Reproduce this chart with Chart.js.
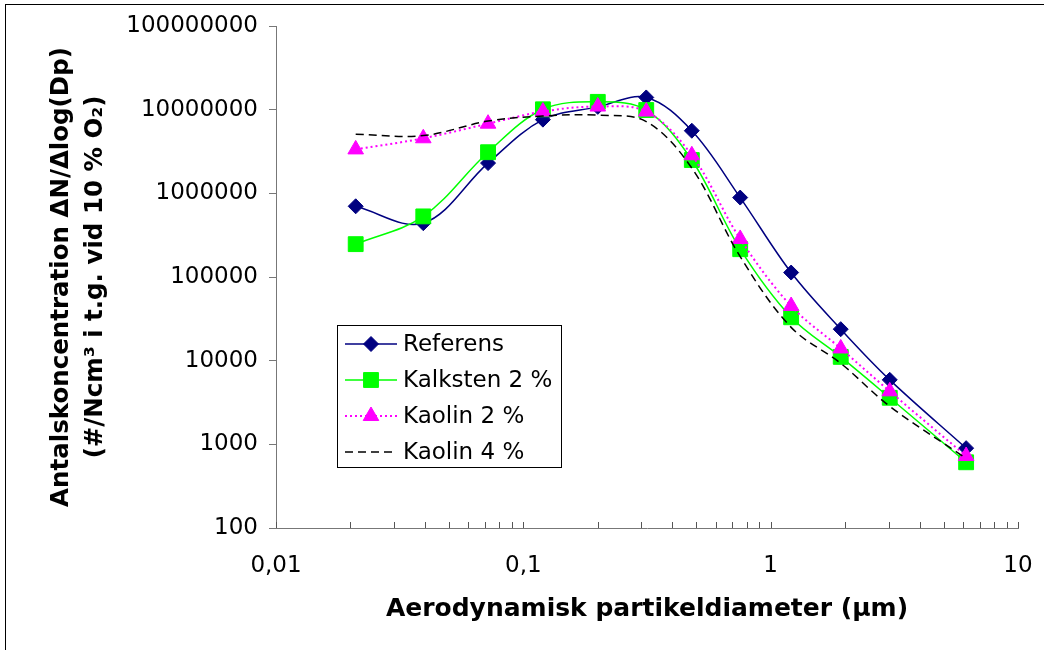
<!DOCTYPE html>
<html>
<head>
<meta charset="utf-8">
<script src="https://cdn.jsdelivr.net/npm/chart.js@4.4.0/dist/chart.umd.min.js"></script>
<style>
  html, body { margin: 0; padding: 0; background: #fff; }
  #wrap { position: relative; width: 1044px; height: 650px; }
  #frame { position: absolute; left: 5px; top: 4px; right: 0; bottom: 0;
           border-left: 1px solid #000; border-top: 1px solid #000; pointer-events: none; }
</style>
</head>
<body>
<div id="wrap">
  <canvas id="chart" width="1044" height="650"></canvas>
  <div id="frame"></div>
</div>
<script>
// partikeldiameter (µm)
const diameters = [0.021, 0.0394, 0.072, 0.12, 0.2, 0.314, 0.48, 0.753, 1.21, 1.92, 3.03, 6.17];

// ΔN/Δlog(Dp) per serie
const referens  = [700000, 440000, 2300000, 7600000, 10800000, 14000000, 5600000, 890000, 113000, 23800, 5900, 900];
const kalksten2 = [247000, 530000, 3100000, 10100000, 12400000, 9900000, 2500000, 215000, 33000, 11100, 3600, 610];
const kaolin2   = [3350000, 4550000, 6800000, 9500000, 10900000, 9500000, 2850000, 285000, 45000, 14000, 4300, 725];
const kaolin4   = [5100000, 4900000, 7300000, 8400000, 8600000, 7200000, 2000000, 175000, 25000, 9300, 2850, 680];

const seriesNames = ['Referens', 'Kalksten 2 %', 'Kaolin 2 %', 'Kaolin 4 %'];

// axlar
const yTicks = [100, 1000, 10000, 100000, 1000000, 10000000, 100000000];
const xMajorTicks = [0.01, 0.1, 1, 10];
const xTickLabels = ['0,01', '0,1', '1', '10'];
const xMinorFactors = [2, 3, 4, 5, 6, 7, 8, 9];

const xTitle = 'Aerodynamisk partikeldiameter (µm)';
const yTitle = ['Antalskoncentration ΔN/Δlog(Dp)', '(#/Ncm³ i t.g. vid 10 % O₂)'];

const FONT = '"DejaVu Sans", "Liberation Sans", Arial, sans-serif';
Chart.defaults.font.family = FONT;
Chart.defaults.color = '#000';

function toPoints(values) {
    return diameters.map((d, i) => ({ x: d, y: values[i] }));
}

// alla tickpositioner på x (stora + små)
const xTickPositions = [];
xMajorTicks.forEach((m, i) => {
    xTickPositions.push(m);
    if (i < xMajorTicks.length - 1) {
        xMinorFactors.forEach(f => xTickPositions.push(m * f));
    }
});

// små tickstreck inåt på x-axeln
const xTickMarks = {
    id: 'xTickMarks',
    afterDraw(chart) {
        const ctx = chart.ctx;
        const xs = chart.scales.x;
        const yBase = chart.chartArea.bottom;
        ctx.save();
        ctx.strokeStyle = '#555';
        ctx.lineWidth = 1;
        xs.ticks.forEach(t => {
            const px = Math.round(xs.getPixelForValue(t.value)) + 0.5;
            ctx.beginPath();
            ctx.moveTo(px, yBase);
            ctx.lineTo(px, yBase - 6);
            ctx.stroke();
        });
        ctx.restore();
    }
};

// förklaringsruta inne i diagrammet
const boxLegend = {
    id: 'boxLegend',
    afterDraw(chart) {
        const ctx = chart.ctx;
        const x0 = 337, y0 = 325, w = 224, h = 142;
        ctx.save();
        ctx.fillStyle = '#fff';
        ctx.fillRect(x0, y0, w, h);
        ctx.strokeStyle = '#000';
        ctx.lineWidth = 1;
        ctx.strokeRect(x0 + 0.5, y0 + 0.5, w, h);

        chart.data.datasets.forEach((ds, i) => {
            const cy = 344 + i * 36;
            ctx.strokeStyle = ds.borderColor;
            ctx.lineWidth = ds.borderWidth;
            ctx.setLineDash(ds.borderDash || []);
            ctx.beginPath();
            ctx.moveTo(345, cy);
            ctx.lineTo(397, cy);
            ctx.stroke();
            ctx.setLineDash([]);

            if (ds.pointRadius > 0) {
                ctx.fillStyle = ds.pointBackgroundColor;
                ctx.strokeStyle = ds.pointBorderColor;
                ctx.lineWidth = 1;
                Chart.helpers.drawPoint(ctx, {
                    pointStyle: ds.pointStyle,
                    radius: ds.pointRadius,
                    borderWidth: 1,
                    rotation: 0
                }, 371, cy);
            }

            ctx.fillStyle = '#000';
            ctx.font = '23px ' + FONT;
            ctx.textBaseline = 'middle';
            ctx.textAlign = 'left';
            ctx.fillText(ds.label, 403, cy + 1);
        });
        ctx.restore();
    }
};

new Chart(document.getElementById('chart'), {
    type: 'line',
    data: {
        datasets: [
            {
                label: seriesNames[0],
                data: toPoints(referens),
                borderColor: '#000080',
                borderWidth: 1.5,
                pointStyle: 'rectRot',
                pointRadius: 7.5,
                pointBackgroundColor: '#000080',
                pointBorderColor: '#000080',
                pointBorderWidth: 1,
                tension: 0.35,
                order: 4
            },
            {
                label: seriesNames[1],
                data: toPoints(kalksten2),
                borderColor: '#00ff00',
                borderWidth: 1.5,
                pointStyle: 'rect',
                pointRadius: 10.5,
                pointBackgroundColor: '#00ff00',
                pointBorderColor: '#00ff00',
                pointBorderWidth: 1,
                tension: 0.35,
                order: 3
            },
            {
                label: seriesNames[2],
                data: toPoints(kaolin2),
                borderColor: '#ff00ff',
                borderWidth: 2,
                borderDash: [2, 3],
                pointStyle: 'triangle',
                pointRadius: 9,
                pointBackgroundColor: '#ff00ff',
                pointBorderColor: '#ff00ff',
                pointBorderWidth: 1,
                tension: 0.35,
                order: 2
            },
            {
                label: seriesNames[3],
                data: toPoints(kaolin4),
                borderColor: '#000000',
                borderWidth: 1.5,
                borderDash: [8, 5],
                pointRadius: 0,
                tension: 0.35,
                order: 1
            }
        ]
    },
    options: {
        responsive: false,
        devicePixelRatio: 1,
        animation: false,
        layout: { padding: { left: 0, top: 26, right: 26, bottom: 0 } },
        plugins: {
            legend: { display: false },
            tooltip: { enabled: false }
        },
        scales: {
            x: {
                type: 'logarithmic',
                position: 'bottom',
                min: 0.01,
                max: 10,
                afterBuildTicks: s => { s.ticks = xTickPositions.map(v => ({ value: v })); },
                afterFit: s => {
                    s.height = 122;
                    // etiketterna får sticka ut i marginalen
                    s.paddingLeft = 0;
                    s.paddingRight = 0;
                },
                ticks: {
                    autoSkip: false,
                    maxRotation: 0,
                    padding: 24,
                    font: { size: 23 },
                    color: '#000',
                    callback: (v) => {
                        const i = xMajorTicks.findIndex(m => Math.abs(m - v) / m < 1e-6);
                        return i >= 0 ? xTickLabels[i] : '';
                    }
                },
                grid: { drawOnChartArea: false, drawTicks: false },
                border: { display: true, color: '#777', width: 1 },
                title: {
                    display: true,
                    text: xTitle,
                    color: '#000',
                    font: { size: 25, weight: 'bold', lineHeight: 1.2 },
                    padding: { top: 0, bottom: 26 }
                }
            },
            y: {
                type: 'logarithmic',
                min: 100,
                max: 100000000,
                afterBuildTicks: s => { s.ticks = yTicks.map(v => ({ value: v })); },
                afterFit: s => { s.width = 276; },
                ticks: {
                    padding: 11,
                    font: { size: 23 },
                    color: '#000',
                    callback: (v) => String(v)
                },
                grid: { drawOnChartArea: false, drawTicks: true, tickLength: 7, color: '#777' },
                border: { display: true, color: '#777', width: 1 },
                title: {
                    display: true,
                    text: yTitle,
                    color: '#000',
                    font: { size: 24.5, weight: 'bold', lineHeight: 1.39 },
                    padding: { top: 45, bottom: 0 }
                }
            }
        }
    },
    plugins: [xTickMarks, boxLegend]
});
</script>
</body>
</html>
